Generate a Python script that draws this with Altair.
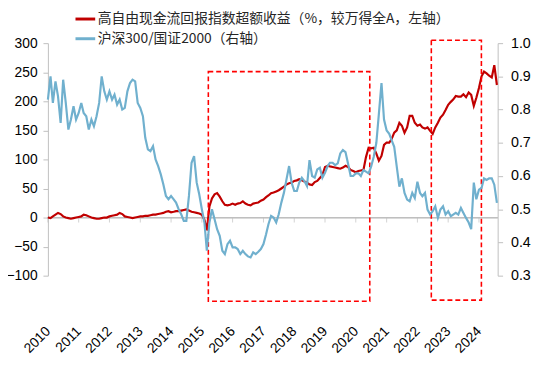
import altair as alt
import pandas as pd

# Monthly observations, 2010-01 .. 2024-08
months = pd.date_range("2010-01-01", "2024-08-01", freq="MS").strftime("%Y-%m-%d").tolist()

red_name = "高自由现金流回报指数超额收益（%，较万得全A，左轴）"
blue_name = "沪深300/国证2000（右轴）"

# 高自由现金流回报指数超额收益 (%), left axis
excess = [
    0, -1, 2, 5, 8,
    6, 2, 0, -1,
    -2, -1, 0, 1, 2,
    5, 4, 2, 0,
    -1, -2, -2, -1, 0,
    0, 2, 3, 4, 5,
    8, 6,
    2, 1, 0, -1, 0, 1,
    2, 2, 3, 3, 4,
    5, 5, 6, 7, 8,
    10, 11, 9, 10, 11,
    11, 12, 13, 14, 12,
    10, 9,
    8, 7, 5, -4, -22,
    19, 33, 40, 42, 36,
    28, 22, 21, 22, 24,
    22, 24, 25, 28, 24,
    22, 21, 24, 25, 26,
    29, 31, 35, 38, 42,
    43, 45, 47, 50, 53,
    57, 59, 60, 63, 64,
    66, 64, 62, 60, 57,
    56, 61, 63, 68, 73,
    87, 89, 88, 87, 86,
    85, 84, 86, 89, 87,
    82, 80, 78, 80, 81,
    82, 104, 120, 119, 120,
    110, 98, 106, 125, 129,
    129, 135, 146,
    150, 163, 158, 146, 155,
    175, 175, 163, 158, 160,
    155, 153, 155, 149, 144,
    155, 163, 172, 177, 185,
    194, 199, 203, 209, 208,
    208, 212, 207, 215, 211,
    192, 206, 223, 243, 251,
    248, 244, 241, 262, 228,
]

# 沪深300/国证2000, right axis
ratio = [
    0.83, 0.90, 0.82, 0.885, 0.84,
    0.76, 0.89, 0.82, 0.74, 0.77,
    0.81, 0.77, 0.79, 0.82, 0.79,
    0.78, 0.74, 0.77, 0.75, 0.78,
    0.82, 0.90, 0.855, 0.83, 0.855,
    0.83, 0.845, 0.815, 0.83, 0.80,
    0.805, 0.855, 0.88, 0.89, 0.885,
    0.82, 0.805, 0.78, 0.715, 0.68,
    0.675, 0.69, 0.65, 0.63, 0.605,
    0.575, 0.54, 0.53, 0.54, 0.53,
    0.52, 0.50, 0.485, 0.465, 0.465,
    0.54, 0.64, 0.66, 0.58, 0.545,
    0.50, 0.46, 0.375, 0.46, 0.50,
    0.47, 0.44, 0.42, 0.375, 0.365,
    0.395, 0.405, 0.385, 0.385, 0.38,
    0.365, 0.375, 0.365, 0.358, 0.355,
    0.37, 0.365, 0.372, 0.38, 0.395,
    0.425, 0.455, 0.48, 0.475, 0.46,
    0.485, 0.52, 0.55, 0.59, 0.63,
    0.58, 0.555, 0.555, 0.58, 0.595,
    0.585, 0.57, 0.648, 0.60, 0.595,
    0.62, 0.625, 0.595, 0.61, 0.63,
    0.64, 0.64, 0.633, 0.638, 0.668,
    0.678, 0.672, 0.638, 0.60, 0.60,
    0.608, 0.608, 0.60, 0.618, 0.613,
    0.608, 0.628, 0.658, 0.70, 0.787,
    0.88, 0.77, 0.737, 0.727, 0.708,
    0.688, 0.628, 0.568, 0.593, 0.549,
    0.529, 0.524, 0.549, 0.534, 0.583,
    0.549, 0.539, 0.549, 0.499, 0.484,
    0.494, 0.509, 0.474, 0.499, 0.509,
    0.484, 0.494, 0.479, 0.484, 0.489,
    0.484, 0.504, 0.489, 0.474, 0.46,
    0.44, 0.58, 0.53, 0.559, 0.564,
    0.593, 0.588, 0.593, 0.593, 0.574, 0.519,
]

# dashed highlight boxes (left-axis units)
box_start = ["2015-03-19", "2022-06-15"]
box_end = ["2020-06-15", "2024-01-30"]
box_top = [251, 305]
box_bottom = [-144, -142]

left_ticks = [-100, -50, 0, 50, 100, 150, 200, 250, 300]
right_ticks = [0.3, 0.4, 0.5, 0.6, 0.7, 0.8, 0.9, 1.0]
years = list(range(2010, 2025))
year_starts = [f"{y}-01-01" for y in years]

df = pd.DataFrame({"date": months, "excess": excess, "ratio": ratio})
boxes = pd.DataFrame({"start": box_start, "end": box_end, "top": box_top, "bottom": box_bottom})
ticks_df = pd.DataFrame({"date": year_starts, "zero": [0] * len(year_starts)})

NUM_FONT = "Liberation Sans"
CJK_FONT = "Noto Sans CJK SC"
GRAY = "#BFBFBF"
RED = "#C00000"
BLUE = "#70B0CE"

xscale = alt.Scale(
    type="utc",
    domain=[alt.DateTime(year=2010, month=1, date=1, utc=True),
            alt.DateTime(year=2024, month=8, date=10, utc=True)],
    nice=False,
)
year_vals = [alt.DateTime(year=y, month=1, date=1, utc=True) for y in years]

label_axis = alt.Axis(
    orient="bottom", values=year_vals, format="%Y", labelAngle=-45, labelAlign="right",
    labelBaseline="middle", domain=False, ticks=False, grid=False, title=None,
    labelPadding=4, offset=50, labelFontSize=14, labelFont=NUM_FONT,
    labelColor="#000000", labelOverlap=False, labelFlush=False,
)

left_scale = alt.Scale(domain=[-100, 300], nice=False, zero=False)
right_scale = alt.Scale(domain=[0.3, 1.0], nice=False, zero=False)

left_axis = alt.Axis(
    values=left_ticks, orient="left", grid=False, title=None,
    domainColor=GRAY, tickColor=GRAY, tickSize=5, labelPadding=6,
    labelFontSize=14, labelFont=NUM_FONT, labelColor="#000000",
)
right_axis = alt.Axis(
    values=right_ticks, orient="right", grid=False, title=None, format=".1f",
    domainColor=GRAY, tickColor=GRAY, tickSize=5, labelPadding=8,
    labelFontSize=14.5, labelFont=NUM_FONT, labelColor="#000000",
)

color_scale = alt.Scale(domain=[red_name, blue_name], range=[RED, BLUE])
legend = alt.Legend(
    orient="none", legendX=26.5, legendY=-36, title=None, direction="vertical",
    symbolType="stroke", symbolSize=400, symbolStrokeWidth=3,
    labelFontSize=14, labelFont=CJK_FONT, labelColor="#262626",
    labelLimit=800, rowPadding=1, labelOffset=1, padding=0,
)

# zero line (horizontal axis crossing at 0) with year ticks
zero_rule = alt.Chart(ticks_df).mark_rule(color=GRAY, strokeWidth=1).encode(
    y=alt.Y("zero:Q", scale=left_scale, axis=left_axis),
)
year_ticks = alt.Chart(ticks_df).mark_tick(
    color=GRAY, orient="vertical", size=5, thickness=1, yOffset=2.5, clip=False
).encode(
    x=alt.X("date:T", scale=xscale, axis=None),
    y=alt.Y("zero:Q", scale=left_scale, axis=left_axis),
)

red_line = alt.Chart(df).transform_calculate(
    series=f"'{red_name}'"
).mark_line(strokeWidth=2.2, clip=False).encode(
    x=alt.X("date:T", scale=xscale, axis=None),
    y=alt.Y("excess:Q", scale=left_scale, axis=left_axis),
    color=alt.Color("series:N", scale=color_scale, legend=legend),
)

box_layer = alt.Chart(boxes).mark_rect(
    filled=False, stroke="#FF0000", strokeDash=[5, 3], strokeWidth=1.6, clip=False
).encode(
    x=alt.X("start:T", scale=xscale, axis=None),
    x2="end:T",
    y=alt.Y("top:Q", scale=left_scale, axis=left_axis),
    y2="bottom:Q",
)

blue_line = alt.Chart(df).transform_calculate(
    series=f"'{blue_name}'"
).mark_line(strokeWidth=2.2, clip=False).encode(
    x=alt.X("date:T", scale=xscale, axis=label_axis),
    y=alt.Y("ratio:Q", scale=right_scale, axis=right_axis),
    color=alt.Color("series:N", scale=color_scale, legend=legend),
)

left_group = alt.layer(zero_rule, year_ticks, red_line, box_layer)

chart = alt.layer(left_group, blue_line).resolve_scale(
    y="independent"
).resolve_axis(
    x="independent", y="independent"
).properties(
    width=456.5, height=236,
    autosize=alt.AutoSizeParams(type="none"),
    padding={"left": 40.5, "top": 33, "right": 45, "bottom": 90},
    background="white",
).configure_view(stroke=None)

chart.save("out.html", embed_options={"renderer": "svg", "actions": False})
